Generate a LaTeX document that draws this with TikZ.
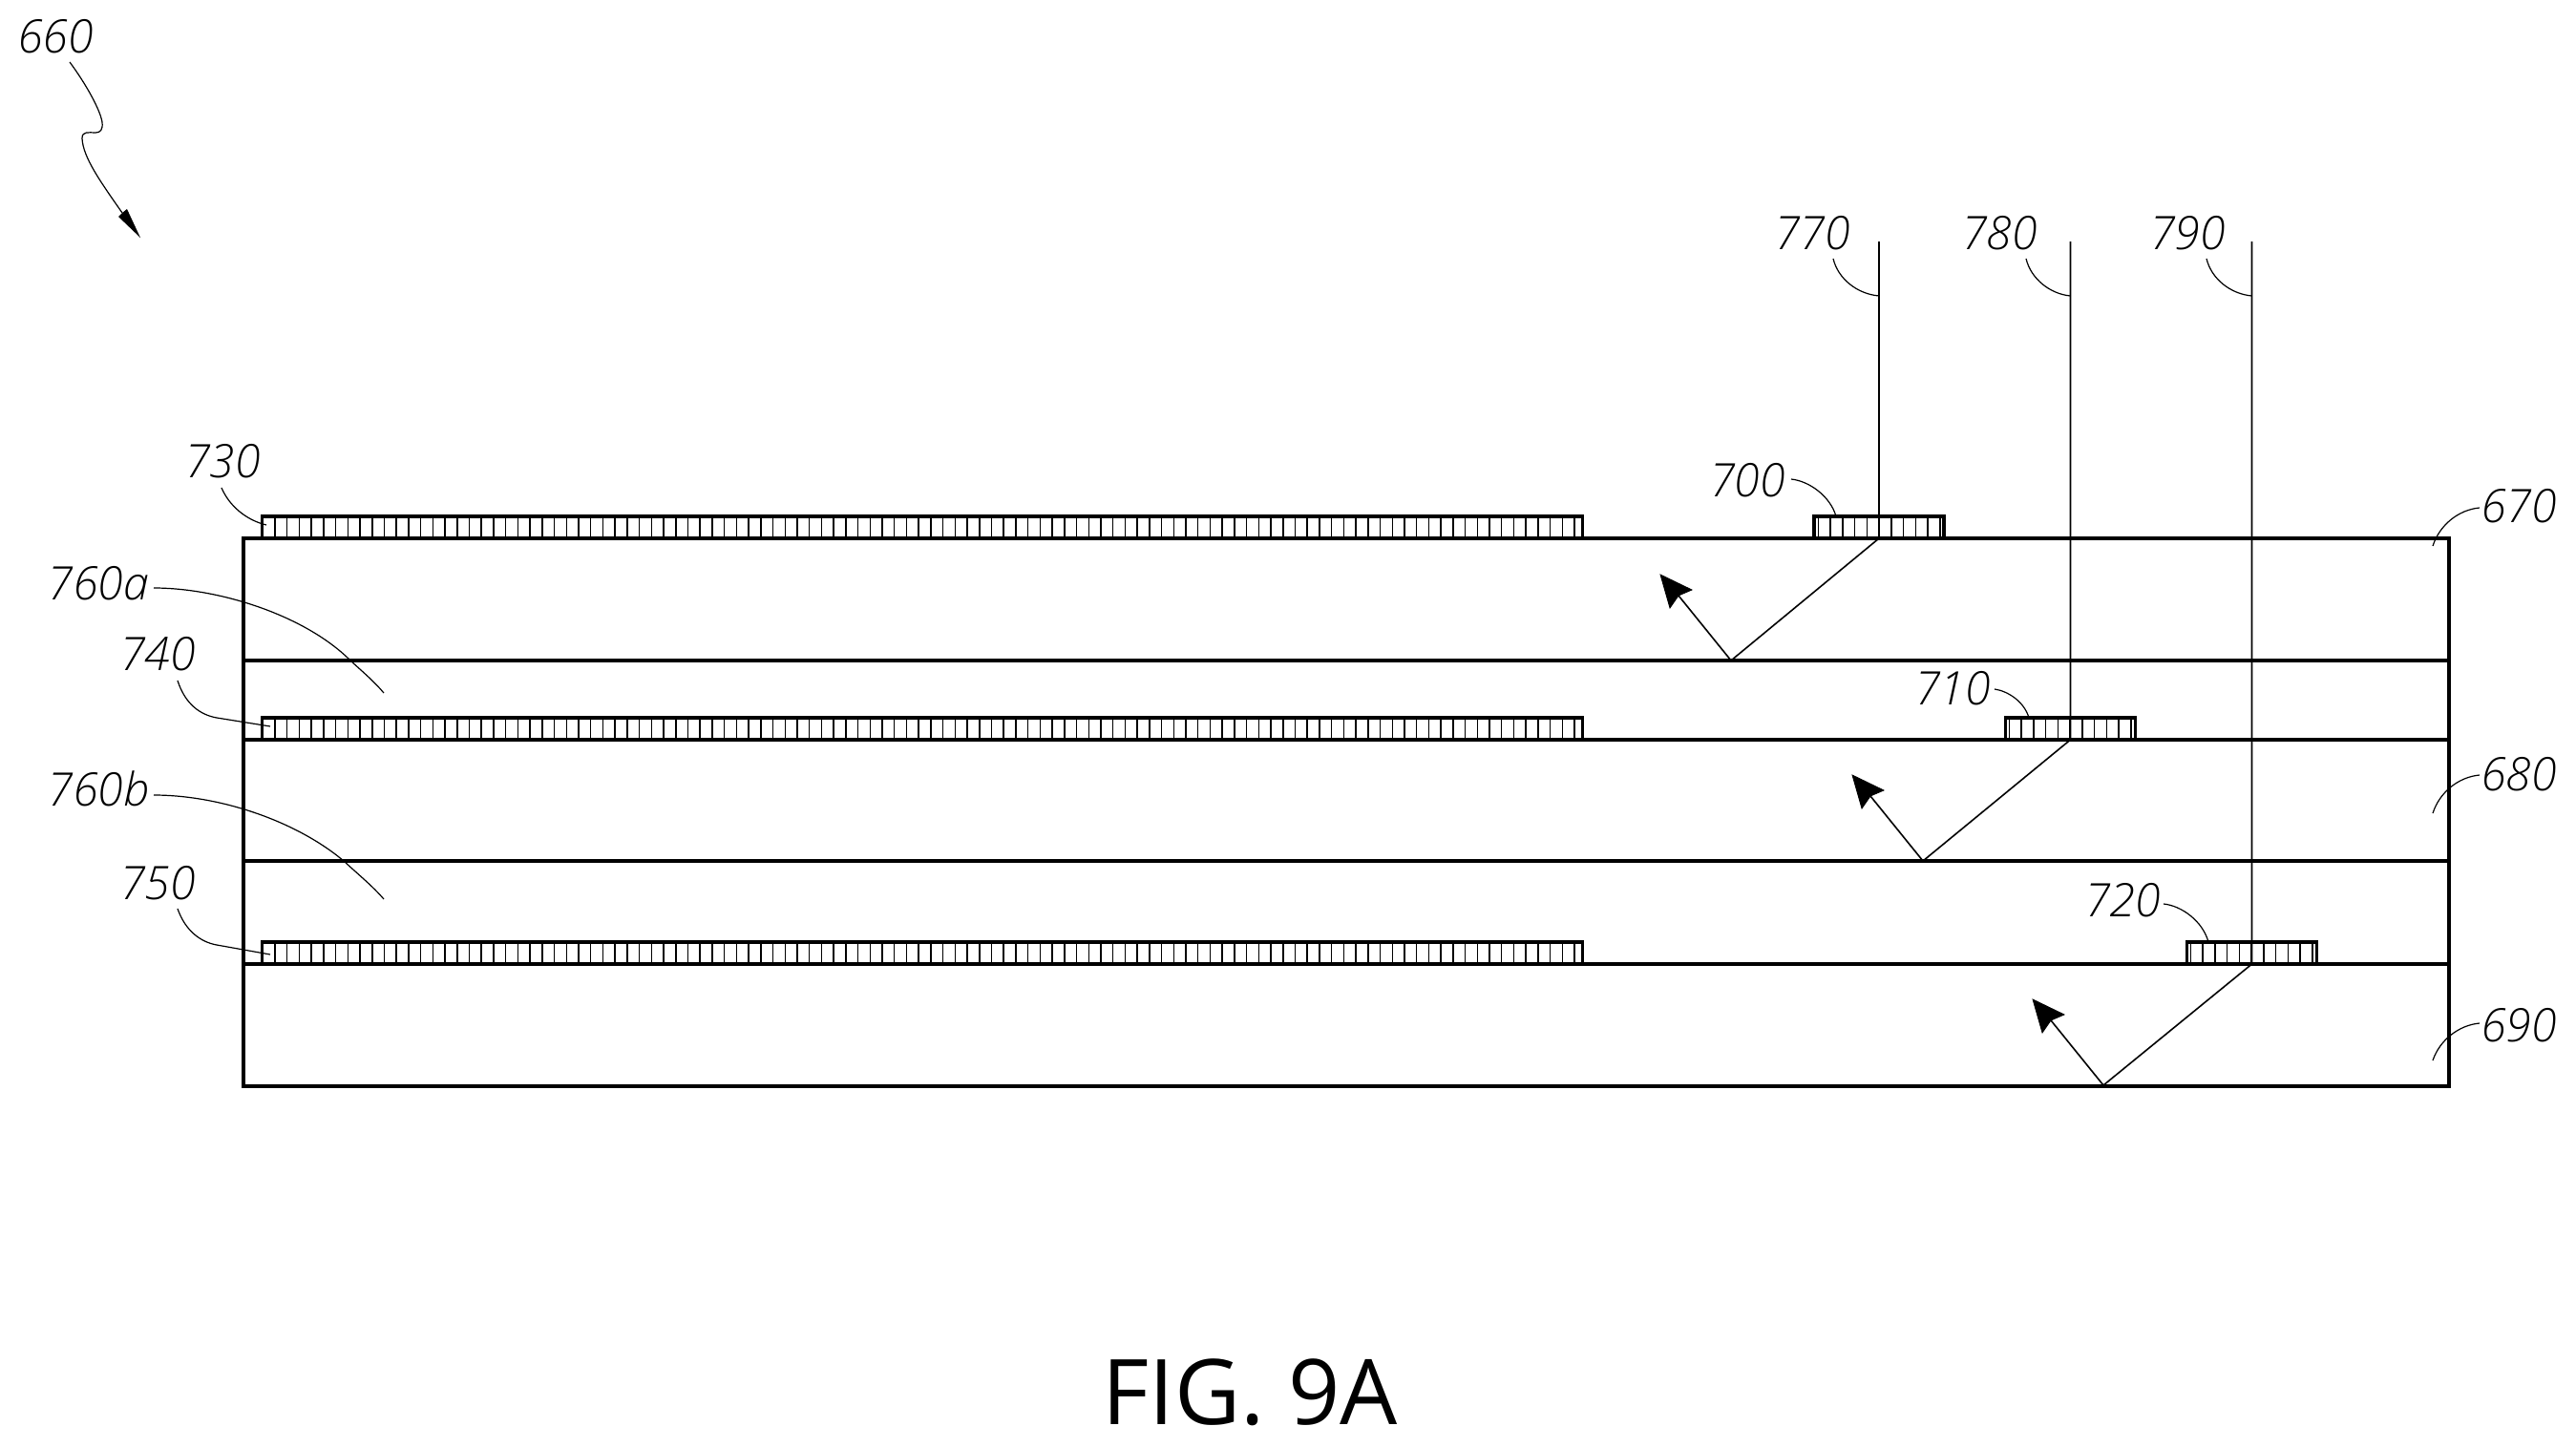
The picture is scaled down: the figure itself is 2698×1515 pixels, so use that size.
\documentclass[tikz,border=0pt]{standalone}
\usepackage{fontspec}
\newfontfamily\lblfont{Open Sans Light}[ItalicFont=Open Sans Light Italic]
\newfontfamily\figfont{Open Sans}
\tikzset{
  layerline/.style={line width=1.75pt},
  hatchline/.style={line width=0.75pt},
  rayline/.style={line width=0.8pt},
  leader/.style={line width=0.6pt},
  padbox/.style={draw,line width=1.6pt,inner sep=0pt,outer sep=0pt,minimum height=11.5pt},
  longpad/.style={padbox,minimum width=691.5pt},
  shortpad/.style={padbox,minimum width=68pt},
  reflabel/.style={inner sep=0pt,outer sep=0pt,font=\lblfont\itshape\fontsize{24.2}{25}\selectfont},
  headfill/.style={fill=black,draw=black,line width=0.4pt}
}
\newcommand{\reflhead}[1]{%
  \path[headfill] ([shift={(-74,-90)}]#1) -- ([shift={(-41,-74)}]#1) -- ([shift={(-55,-68)}]#1) -- ([shift={(-64,-55)}]#1) -- cycle;}
\begin{document}
\begin{tikzpicture}[x=0.5pt,y=-0.5pt]
\useasboundingbox (0,0) rectangle (2698,1515);
% layers
\coordinate (tl) at (255,564); \coordinate (br) at (2565,1138);
\draw[layerline] (tl) rectangle (br);
\foreach \yy/\nm in {692/a,775/b,902/c,1010/d}{
  \coordinate (ll\nm) at (255,\yy); \coordinate (lr\nm) at (2565,\yy);
  \draw[layerline] (ll\nm) -- (lr\nm);
}
% long pads
\node[longpad] (lp1) at (966,552.5) {};
\node[longpad] (lp2) at (966,763.5) {};
\node[longpad] (lp3) at (966,998.5) {};
\foreach \yt/\yb in {541/564,752/775,987/1010}{
  \foreach \n in {0,...,107}{
    \draw[hatchline] ({288+12.72*\n},\yt) -- ({288+12.72*\n},\yb);
  }
}
% short pads
\node[shortpad] (sp1) at (1968,552.5) {};
\node[shortpad] (sp2) at (2168.5,763.5) {};
\node[shortpad] (sp3) at (2358.5,998.5) {};
\foreach \cx/\yt/\yb in {1968/541/564,2168/752/775,2358/987/1010}{
  \foreach \n in {0,...,10}{
    \draw[hatchline] ({\cx-63.75+12.75*\n},\yt) -- ({\cx-63.75+12.75*\n},\yb);
  }
}
% rays
\coordinate (rt1) at (1968,253); \coordinate (rt2) at (2168.5,253); \coordinate (rt3) at (2358.5,253);
\coordinate (v1) at (1813,692); \coordinate (v2) at (2014,902); \coordinate (v3) at (2203,1137);
\coordinate (h1) at ([shift={(-55,-68)}]v1); \coordinate (h2) at ([shift={(-55,-68)}]v2); \coordinate (h3) at ([shift={(-55,-68)}]v3);
\draw[rayline] (rt1) -- (sp1.south) -- (v1) -- (h1);
\draw[rayline] (rt2) -- (sp2.south) -- (v2) -- (h2);
\draw[rayline] (rt3) -- (sp3.south) -- (v3) -- (h3);
\reflhead{v1}\reflhead{v2}\reflhead{v3}
% labels
\node[reflabel] (n660) at (58,38) {660};
\node[reflabel] (n730) at (233,483) {730};
\node[reflabel] (n760a) at (103,611) {760a};
\node[reflabel] (n740) at (165,685) {740};
\node[reflabel] (n760b) at (103,826) {760b};
\node[reflabel] (n750) at (165,925) {750};
\node[reflabel] (n700) at (1830,503) {700};
\node[reflabel] (n710) at (2045,721) {710};
\node[reflabel] (n720) at (2223,943) {720};
\node[reflabel] (n770) at (1898,244) {770};
\node[reflabel] (n780) at (2094,244) {780};
\node[reflabel] (n790) at (2291,244) {790};
\node[reflabel] (n670) at (2638,530) {670};
\node[reflabel] (n680) at (2638,811) {680};
\node[reflabel] (n690) at (2638,1074) {690};
\node[inner sep=0pt,outer sep=0pt,font=\figfont\fontsize{47.5}{48}\selectfont] (fig) at (1309,1459) {FIG. 9A};
% leaders
\draw[leader] (232,511) .. controls (240,530) and (258,545) .. (279,550);
\draw[leader] (186,713) .. controls (194,738) and (210,749) .. (227,752) -- (283,761);
\draw[leader] (186,952) .. controls (194,975) and (210,987) .. (227,990) -- (283,1000);
\draw[leader] (161,616) .. controls (230,616) and (320,645) .. (367,692) .. controls (380,704) and (392,714) .. (402,726);
\draw[leader] (161,833) .. controls (230,833) and (310,860) .. (360,902) .. controls (375,916) and (390,928) .. (402,942);
\draw[leader] (1876,502) .. controls (1895,504) and (1917,520) .. (1923,541);
\draw[leader] (2089,722) .. controls (2103,724) and (2120,735) .. (2125,752);
\draw[leader] (2266,947) .. controls (2285,949) and (2307,965) .. (2313,987);
\draw[leader] (1920,271) .. controls (1925,292) and (1945,308) .. (rt1|-0,310);
\draw[leader] (2122,271) .. controls (2127,292) and (2147,308) .. (rt2|-0,310);
\draw[leader] (2311,271) .. controls (2316,292) and (2336,308) .. (rt3|-0,310);
\draw[leader] (2597,532) .. controls (2575,534) and (2555,550) .. (2548,572);
\draw[leader] (2597,812) .. controls (2575,814) and (2555,830) .. (2548,852);
\draw[leader] (2597,1072) .. controls (2575,1074) and (2555,1090) .. (2548,1111);
% 660 arrow
\draw[line width=0.6pt] (73,65) .. controls (90,88) and (105,115) .. (107,128) .. controls (108,136) and (105,139) .. (100,139) .. controls (93,139) and (86,137) .. (86,145) .. controls (87,165) and (105,190) .. (128,223);
\fill (147,249) -- (133,219) -- (128,223) -- (124,227) -- cycle;
\end{tikzpicture}
\end{document}
